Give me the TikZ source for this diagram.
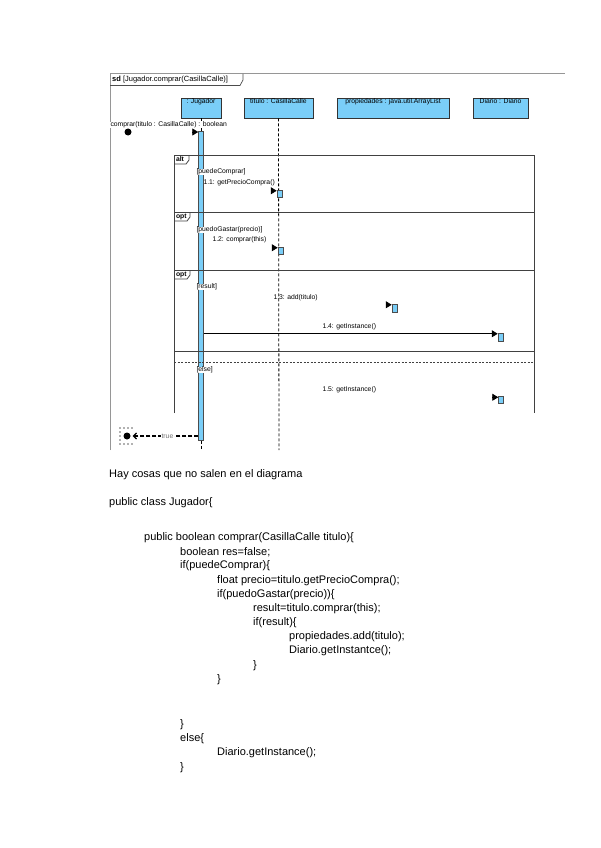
\documentclass[tikz,border=0pt]{standalone}
\usepackage{fontspec}
\setmainfont{Liberation Sans}
\usetikzlibrary{arrows.meta}
\definecolor{lblue}{RGB}{122,206,248}
\definecolor{fragc}{RGB}{65,65,65}
\definecolor{framec}{RGB}{150,150,150}
\begin{document}
\begin{tikzpicture}[x=1pt,y=-1pt,
  dtxt/.style={font=\fontsize{6.8}{7}\selectfont, inner sep=0.3pt},
  code/.style={font=\fontsize{11}{13}\selectfont, anchor=west, inner sep=0pt},
  lifebox/.style={draw=black!80, fill=lblue, line width=0.8pt, minimum height=20pt, inner sep=0pt},
  actbar/.style={draw=black!70, fill=lblue, line width=0.5pt, minimum width=5pt, inner sep=0pt},
  lifeline/.style={draw=black, dashed, dash pattern=on 3pt off 2pt, line width=0.8pt},
  fragline/.style={draw=fragc, line width=0.9pt},
  tipmsg/.style={draw=black, line width=0.8pt, -{Triangle[length=6pt,width=7pt]}},
  guard/.style={dtxt, fill=white, anchor=west}
]
\useasboundingbox (0,0) rectangle (600,848);

% outer frame
\draw[framec, line width=1pt] (110,450) -- (110,74) -- (565,74);
\draw[black!70, line width=0.7pt] (110,85.5) -- (240,85.5) -- (243,80) -- (243,74);
\node[font=\fontsize{7.5}{8}\selectfont, anchor=west, inner sep=0pt] (sdlabel) at (112,80) {\textbf{sd} [Jugador.comprar(CasillaCalle)]};

% lifeline heads
\node[lifebox, minimum width=40pt] (jug) at (201,108) {};
\node[dtxt, anchor=north] (jugt) at (jug.north) {: Jugador};
\node[lifebox, minimum width=69pt] (tit) at (278.5,108) {};
\node[dtxt, anchor=north] (titt) at (tit.north) {titulo : CasillaCalle};
\node[lifebox, minimum width=112pt] (prop) at (393,108) {};
\node[dtxt, anchor=north] (propt) at (prop.north) {propiedades : java.util.ArrayList};
\node[lifebox, minimum width=55pt] (dia) at (500.5,108) {};
\node[dtxt, anchor=north] (diat) at (dia.north) {Diario : Diario};

% activation of Jugador
\node[actbar, minimum height=309pt, anchor=north] (jact) at (201,131) {};
\coordinate (jend) at (201,450);
\coordinate (tend) at (279,450);
\draw[lifeline] (jug.south) -- (jact.north);
\draw[lifeline] (jact.south) -- (jend);
\draw[lifeline] (tit.south) -- (tend);

% found message
\node[circle, fill=black, inner sep=0pt, minimum size=7pt] (fdot) at (128,132) {};
\node[dtxt, anchor=west, fill=white] (foundl) at (110,125) {comprar(titulo : CasillaCalle) : boolean};
\coordinate (f1) at (jact.north west);
\draw[tipmsg] ([xshift=-1pt,yshift=-1pt]f1) -- ([yshift=-1pt]f1);

% combined fragment
\draw[fragline] (174,413) -- (174,155) -- (534,155) -- (534,413);
\draw[fragline] (174,212) -- (534,212);
\draw[fragline] (174,270) -- (534,270);
\draw[fragline] (174,351) -- (534,351);
\draw[fragc, line width=0.8pt, dash pattern=on 2pt off 1.5pt] (174,362) -- (534,362);
\draw[fragc, line width=0.8pt] (174,164) -- (186,164) -- (189,160) -- (189,155);
\node[dtxt, font=\fontsize{6.8}{7}\selectfont\bfseries, anchor=west] (altl) at (175.5,159.5) {alt};
\draw[fragc, line width=0.8pt] (174,221) -- (187,221) -- (190,217) -- (190,212);
\node[dtxt, font=\fontsize{6.8}{7}\selectfont\bfseries, anchor=west] (opt1l) at (175.5,216.5) {opt};
\draw[fragc, line width=0.8pt] (174,279) -- (187,279) -- (190,275) -- (190,270);
\node[dtxt, font=\fontsize{6.8}{7}\selectfont\bfseries, anchor=west] (opt2l) at (175.5,274.5) {opt};

% guards
\node[guard] (g1) at (196,172) {[puedeComprar]};
\node[guard] (g2) at (196,230) {[puedoGastar(precio)]};
\node[guard] (g3) at (196,287) {[result]};
\node[guard] (g4) at (196,370) {[else]};

% messages
\node[actbar, minimum height=7pt] (a11) at (279.5,193.5) {};
\node[dtxt, anchor=west] (m11) at (203,183) {1.1: getPrecioCompra()};
\coordinate (t11) at ([yshift=-1pt]a11.north west);
\draw[tipmsg] ([xshift=-1pt]t11) -- (t11);

\node[actbar, minimum height=7pt] (a12) at (280.5,250.5) {};
\node[dtxt, anchor=west] (m12) at (212,240) {1.2: comprar(this)};
\coordinate (t12) at ([yshift=-1pt]a12.north west);
\draw[tipmsg] ([xshift=-1pt]t12) -- (t12);

\node[actbar, minimum height=8pt] (a13) at (394.5,308) {};
\node[dtxt, anchor=west] (m13) at (273,298) {1.3: add(titulo)};
\coordinate (t13) at ([yshift=-1pt]a13.north west);
\draw[tipmsg] ([xshift=-1pt]t13) -- (t13);

\node[actbar, minimum height=8pt] (a14) at (500.5,337) {};
\node[dtxt, anchor=west] (m14) at (322,327) {1.4: getInstance()};
\coordinate (t14) at ([yshift=-1pt]a14.north west);
\draw[tipmsg] (jact.east |- t14) -- (t14);

\node[actbar, minimum height=7pt] (a15) at (501,400) {};
\node[dtxt, anchor=west] (m15) at (322,390) {1.5: getInstance()};
\coordinate (t15) at ([yshift=-1pt]a15.north west);
\draw[tipmsg] ([xshift=-1pt]t15) -- (t15);

% return to found
\node[circle, fill=black, inner sep=0pt, minimum size=7pt] (rdot) at (127,436) {};
\foreach \px in {120,124,128,132} {
  \fill[black!30] (\px-1,427) rectangle (\px+1,429);
  \fill[black!30] (\px-1,443) rectangle (\px+1,445);
}
\foreach \py in {432,436,440} {\fill[black!30] (119,\py-1) rectangle (121,\py+1);}
\draw[black, line width=1.2pt, dash pattern=on 4pt off 2pt, -{Straight Barb[length=3pt,width=6pt]}] (jact.west |- rdot) -- node[dtxt, fill=white, text=black!55, pos=0.47] (retl) {true} ([xshift=2pt]rdot.east);

% text below
\node[code] (c0) at (109,475) {Hay cosas que no salen en el diagrama};
\node[code] (c1) at (109,503) {public class Jugador\{};
\node[code] (c2) at (144,538) {public boolean comprar(CasillaCalle titulo)\{};
\node[code] (c3) at (180,552) {boolean res=false;};
\node[code] (c4) at (180,566) {if(puedeComprar)\{};
\node[code] (c5) at (217,581) {float precio=titulo.getPrecioCompra();};
\node[code] (c6) at (217,595) {if(puedoGastar(precio))\{};
\node[code] (c7) at (253,609) {result=titulo.comprar(this);};
\node[code] (c8) at (253,623) {if(result)\{};
\node[code] (c9) at (289,637) {propiedades.add(titulo);};
\node[code] (c10) at (289,651) {Diario.getInstantce();};
\node[code] (c11) at (253,666) {\}};
\node[code] (c12) at (217,680) {\}};
\node[code] (c13) at (180,725) {\}};
\node[code] (c14) at (180,739) {else\{};
\node[code] (c15) at (217,753) {Diario.getInstance();};
\node[code] (c16) at (180,768) {\}};
\end{tikzpicture}
\end{document}
